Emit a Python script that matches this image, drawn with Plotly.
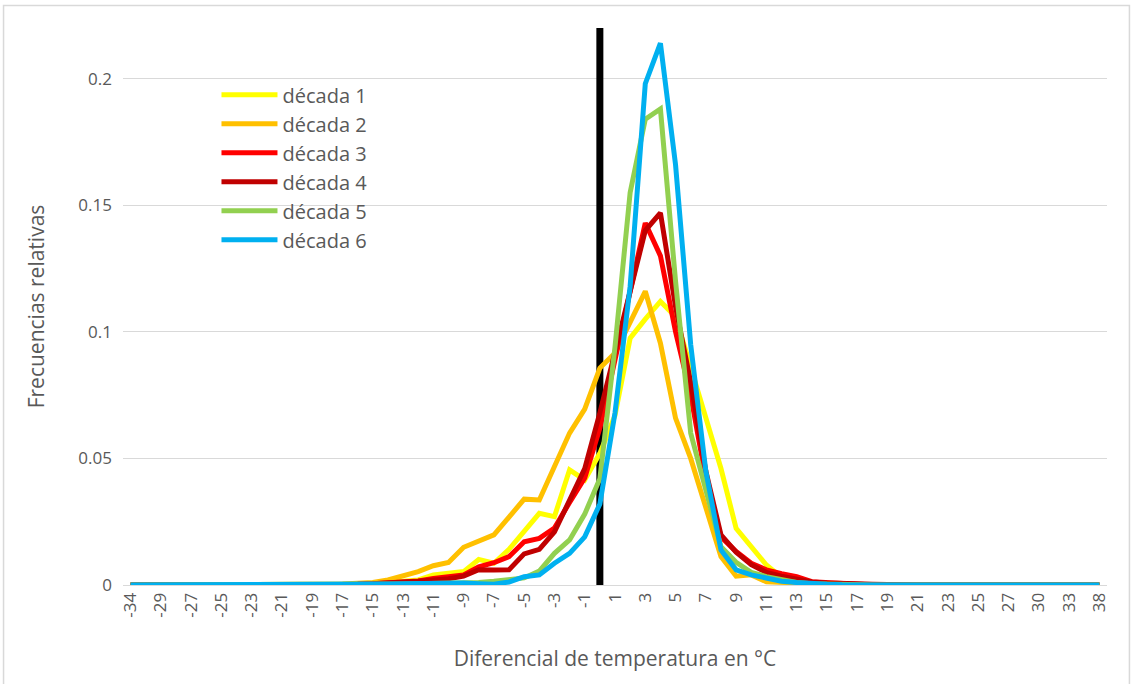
import plotly.graph_objects as go

# Temperature-difference categories (°C) on the horizontal axis
categorias = [-34, -31, -29, -28, -27, -26, -25, -24, -23, -22, -21, -20, -19, -18,
              -17, -16, -15, -14, -13, -12, -11, -10, -9, -8, -7, -6, -5, -4, -3,
              -2, -1, 0, 1, 2, 3, 4, 5, 6, 7, 8, 9, 10, 11, 12, 13, 14, 15, 16,
              17, 18, 19, 20, 21, 22, 23, 24, 25, 26, 27, 28, 30, 31, 33, 35, 38]

# Relative frequencies per decade (same order as categorias)
decada_1 = [0, 0, 0, 0, 0, 0, 0, 0, 0, 0, 0, 0, 0.0001, 0.0001, 0.0002, 0.0003,
            0.0005, 0.001, 0.0015, 0.002, 0.004, 0.0045, 0.0053, 0.0101, 0.0086,
            0.0141, 0.021, 0.0283, 0.027, 0.0455, 0.0415, 0.052, 0.067, 0.0975,
            0.105, 0.112, 0.106, 0.086, 0.0665, 0.046, 0.0224, 0.015, 0.0079,
            0.003, 0.001, 0.0005, 0.0002, 0.0001, 0, 0, 0, 0, 0, 0, 0, 0, 0, 0,
            0, 0, 0, 0, 0, 0, 0]
decada_2 = [0, 0, 0, 0, 0, 0, 0, 0, 0, 0, 0, 0, 0.0002, 0.0003, 0.0004, 0.0007,
            0.001, 0.002, 0.0036, 0.0053, 0.0076, 0.0089, 0.0149, 0.0174, 0.0198,
            0.0268, 0.0339, 0.0336, 0.0468, 0.060, 0.0695, 0.0857, 0.0916, 0.104,
            0.116, 0.0955, 0.0659, 0.050, 0.031, 0.0112, 0.0035, 0.004, 0.0013,
            0.001, 0.0005, 0.0003, 0.0001, 0, 0, 0, 0, 0, 0, 0, 0, 0, 0, 0, 0,
            0, 0, 0, 0, 0, 0]
decada_3 = [0, 0, 0, 0, 0, 0, 0, 0, 0, 0, 0, 0, 0, 0, 0.0002, 0.0003,
            0.0005, 0.0008, 0.001, 0.0016, 0.0026, 0.0033, 0.004, 0.0072, 0.0088,
            0.0112, 0.0171, 0.0184, 0.0225, 0.0326, 0.0423, 0.062, 0.089, 0.116,
            0.143, 0.130, 0.100, 0.075, 0.042, 0.019, 0.0132, 0.0086, 0.006,
            0.0045, 0.0033, 0.0013, 0.0008, 0.0005, 0.0003, 0.0001, 0, 0, 0, 0,
            0, 0, 0, 0, 0, 0, 0, 0, 0, 0, 0]
decada_4 = [0, 0, 0, 0, 0, 0, 0, 0, 0, 0, 0, 0, 0, 0, 0.0002, 0.0003,
            0.0005, 0.0007, 0.001, 0.0015, 0.002, 0.0025, 0.0035, 0.006, 0.0059,
            0.006, 0.0123, 0.0141, 0.021, 0.034, 0.046, 0.068, 0.092, 0.118,
            0.140, 0.147, 0.110, 0.080, 0.045, 0.0198, 0.013, 0.008, 0.005,
            0.0035, 0.0025, 0.0012, 0.0008, 0.0008, 0.0005, 0.0003, 0.0001, 0, 0,
            0, 0, 0, 0, 0, 0, 0, 0, 0, 0, 0, 0]
decada_5 = [0, 0, 0, 0, 0, 0, 0, 0, 0, 0, 0, 0, 0, 0, 0, 0.0001,
            0.0002, 0.0003, 0.0004, 0.0005, 0.0006, 0.0007, 0.0008, 0.001, 0.0015,
            0.002, 0.0028, 0.0055, 0.0125, 0.0178, 0.028, 0.042, 0.094, 0.155,
            0.184, 0.188, 0.120, 0.060, 0.038, 0.0151, 0.009, 0.005, 0.0033,
            0.002, 0.001, 0.0005, 0.0003, 0.0001, 0, 0, 0, 0, 0, 0, 0, 0, 0, 0,
            0, 0, 0, 0, 0, 0, 0]
decada_6 = [0, 0, 0, 0, 0, 0, 0, 0, 0, 0, 0, 0, 0, 0, 0.0001, 0.0002,
            0.0003, 0.0004, 0.0005, 0.0006, 0.0007, 0.0008, 0.0008, 0.0005, 0.0003,
            0.0012, 0.0033, 0.004, 0.0086, 0.0125, 0.019, 0.032, 0.068, 0.118,
            0.198, 0.214, 0.166, 0.095, 0.045, 0.0138, 0.006, 0.004, 0.0025,
            0.0015, 0.001, 0.0005, 0.0003, 0.0001, 0, 0, 0, 0, 0, 0, 0, 0, 0, 0,
            0, 0, 0, 0, 0, 0, 0]

series = [
    ("década 1", decada_1, "#FFFF00"),
    ("década 2", decada_2, "#FFC000"),
    ("década 3", decada_3, "#FF0000"),
    ("década 4", decada_4, "#C00000"),
    ("década 5", decada_5, "#92D050"),
    ("década 6", decada_6, "#00B0F0"),
]

# Reference line at zero difference
linea_cero_x = [0, 0]
linea_cero_y = [0, 0.22]

y_ticks = [0, 0.05, 0.1, 0.15, 0.2]
y_tick_text = ["0", "0.05", "0.1", "0.15", "0.2"]

FONT = "Open Sans, DejaVu Sans, sans-serif"
GRIS = "#595959"

x_cat = [str(c) for c in categorias]

fig = go.Figure()

fig.add_trace(go.Scatter(
    x=[str(v) for v in linea_cero_x], y=linea_cero_y, mode="lines",
    line=dict(color="black", width=7), showlegend=False, hoverinfo="skip"))

for nombre, valores, color in series:
    fig.add_trace(go.Scatter(
        x=x_cat, y=valores, mode="lines", name=nombre,
        line=dict(color=color, width=5)))

fig.update_layout(
    width=1132, height=684,
    margin=dict(l=123, r=25, t=28, b=99),
    paper_bgcolor="white", plot_bgcolor="white",
    font=dict(family=FONT, color=GRIS),
    legend=dict(
        x=0.095, y=0.915, xanchor="left", yanchor="top",
        bgcolor="rgba(0,0,0,0)", font=dict(size=20, color=GRIS, family=FONT),
        itemwidth=56, tracegroupgap=0),
    xaxis=dict(
        type="category", categoryorder="array", categoryarray=x_cat,
        range=[-0.5, len(x_cat) - 0.5],
        tickmode="array", tickvals=x_cat[::2], ticktext=x_cat[::2],
        tickangle=-90, tickfont=dict(size=17, color=GRIS, family=FONT),
        showgrid=False, showline=True, linecolor="#D9D9D9", linewidth=1,
        ticks="", zeroline=False,
        title=dict(text="Diferencial de temperatura en °C",
                   font=dict(size=21, color=GRIS, family=FONT), standoff=34)),
    yaxis=dict(
        range=[0, 0.22], tickmode="array", tickvals=y_ticks, ticktext=y_tick_text,
        tickfont=dict(size=17, color=GRIS, family=FONT),
        showgrid=True, gridcolor="#D9D9D9", gridwidth=1, zeroline=False,
        showline=False, ticks="", ticklabelstandoff=10,
        title=dict(text="Frecuencias relativas",
                   font=dict(size=21, color=GRIS, family=FONT), standoff=28)),
    shapes=[dict(
        type="rect", xref="paper", yref="paper",
        x0=-0.1214, x1=1.0228, y0=-0.2, y1=1.0402,
        line=dict(color="#D9D9D9", width=1.5), fillcolor="rgba(0,0,0,0)",
        layer="below")],
)

fig.write_html("out.html")
